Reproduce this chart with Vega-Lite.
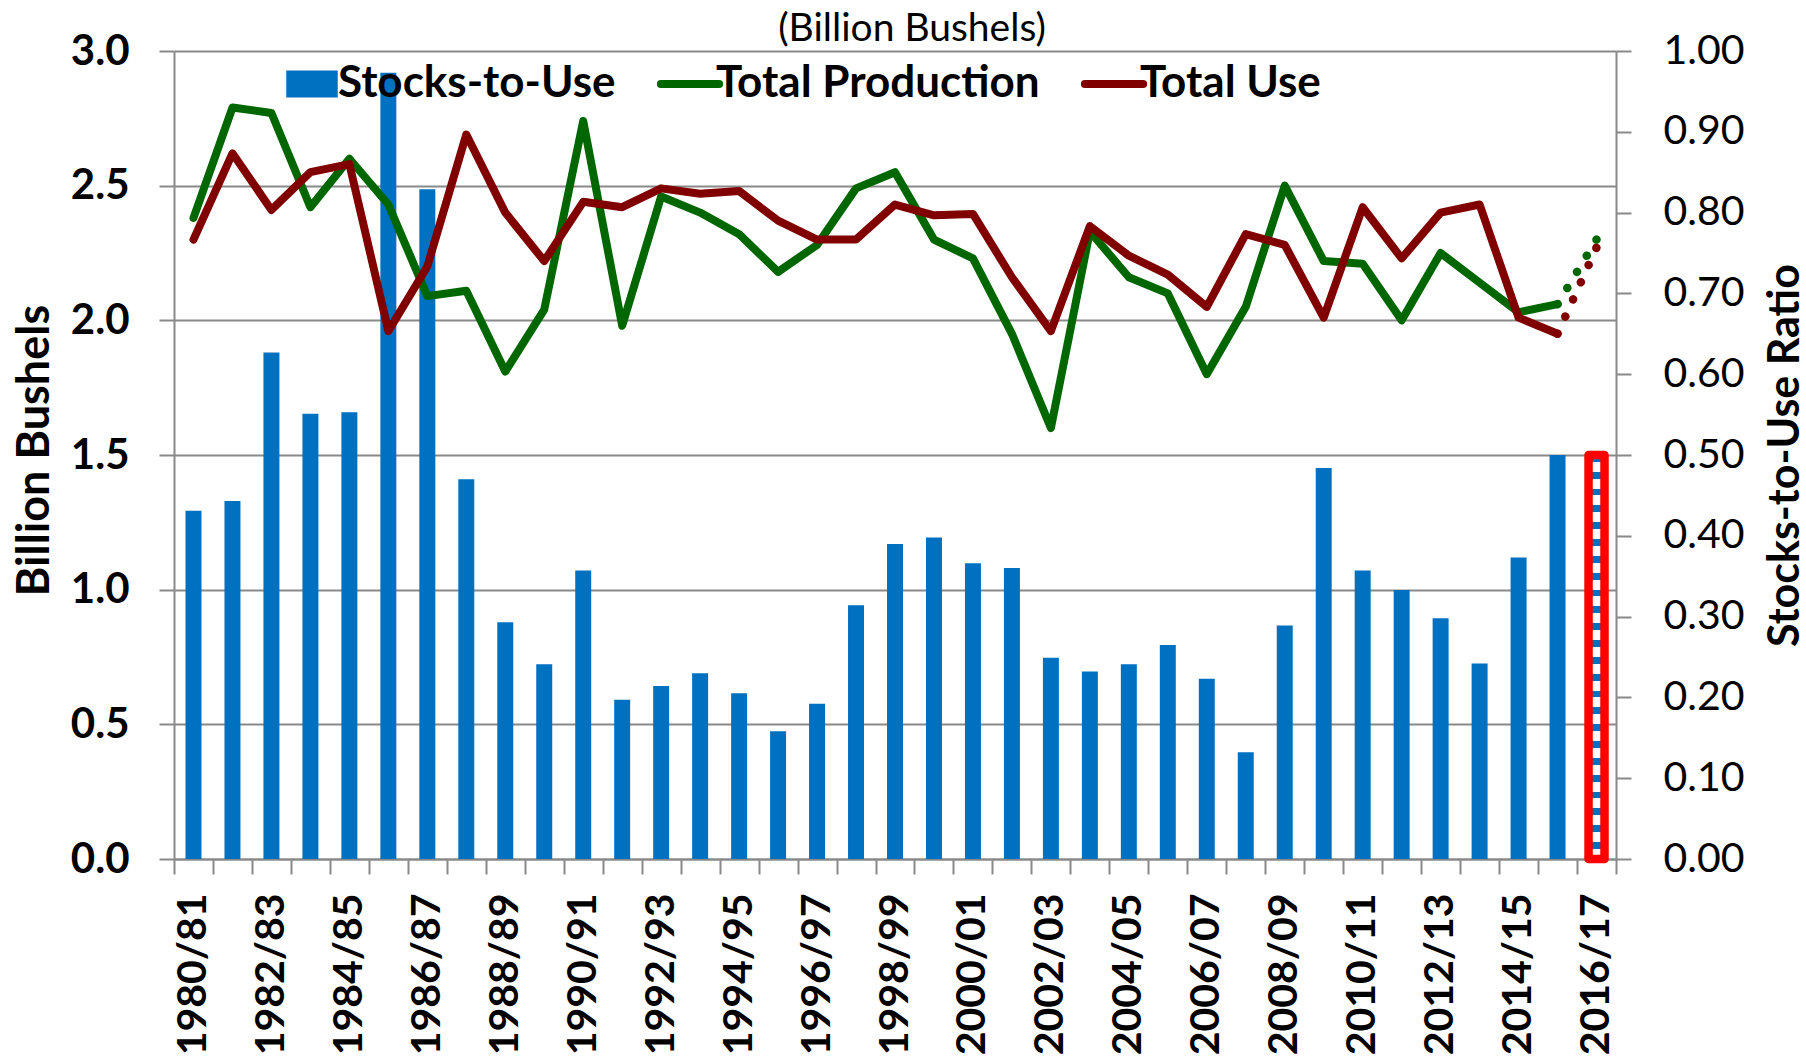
{
  "$schema": "https://vega.github.io/schema/vega-lite/v6.json",
  "autosize": {"type": "none"},
  "padding": {"left": 174, "top": 51, "right": 190, "bottom": 200},
  "width": 1442,
  "height": 808,
  "title": {"text": "(Billion Bushels)", "font": "Lato", "fontSize": 39, "fontWeight": "normal", "color": "black", "anchor": "middle", "frame": "group", "dx": 17, "offset": -50, "baseline": "alphabetic"},
  "data": {"values": [
    {"year": "1980/81", "Stocks-to-Use": 0.431, "Total Production": 2.38, "Total Use": 2.30},
    {"year": "1981/82", "Stocks-to-Use": 0.443, "Total Production": 2.79, "Total Use": 2.62},
    {"year": "1982/83", "Stocks-to-Use": 0.627, "Total Production": 2.77, "Total Use": 2.41},
    {"year": "1983/84", "Stocks-to-Use": 0.551, "Total Production": 2.42, "Total Use": 2.55},
    {"year": "1984/85", "Stocks-to-Use": 0.553, "Total Production": 2.60, "Total Use": 2.58},
    {"year": "1985/86", "Stocks-to-Use": 0.973, "Total Production": 2.43, "Total Use": 1.96},
    {"year": "1986/87", "Stocks-to-Use": 0.829, "Total Production": 2.09, "Total Use": 2.20},
    {"year": "1987/88", "Stocks-to-Use": 0.470, "Total Production": 2.11, "Total Use": 2.69},
    {"year": "1988/89", "Stocks-to-Use": 0.293, "Total Production": 1.81, "Total Use": 2.40},
    {"year": "1989/90", "Stocks-to-Use": 0.241, "Total Production": 2.04, "Total Use": 2.22},
    {"year": "1990/91", "Stocks-to-Use": 0.357, "Total Production": 2.74, "Total Use": 2.44},
    {"year": "1991/92", "Stocks-to-Use": 0.197, "Total Production": 1.98, "Total Use": 2.42},
    {"year": "1992/93", "Stocks-to-Use": 0.214, "Total Production": 2.46, "Total Use": 2.49},
    {"year": "1993/94", "Stocks-to-Use": 0.230, "Total Production": 2.40, "Total Use": 2.47},
    {"year": "1994/95", "Stocks-to-Use": 0.205, "Total Production": 2.32, "Total Use": 2.48},
    {"year": "1995/96", "Stocks-to-Use": 0.158, "Total Production": 2.18, "Total Use": 2.37},
    {"year": "1996/97", "Stocks-to-Use": 0.192, "Total Production": 2.28, "Total Use": 2.30},
    {"year": "1997/98", "Stocks-to-Use": 0.314, "Total Production": 2.49, "Total Use": 2.30},
    {"year": "1998/99", "Stocks-to-Use": 0.390, "Total Production": 2.55, "Total Use": 2.43},
    {"year": "1999/00", "Stocks-to-Use": 0.398, "Total Production": 2.30, "Total Use": 2.39},
    {"year": "2000/01", "Stocks-to-Use": 0.366, "Total Production": 2.23, "Total Use": 2.395},
    {"year": "2001/02", "Stocks-to-Use": 0.360, "Total Production": 1.95, "Total Use": 2.16},
    {"year": "2002/03", "Stocks-to-Use": 0.249, "Total Production": 1.60, "Total Use": 1.96},
    {"year": "2003/04", "Stocks-to-Use": 0.232, "Total Production": 2.33, "Total Use": 2.35},
    {"year": "2004/05", "Stocks-to-Use": 0.241, "Total Production": 2.16, "Total Use": 2.24},
    {"year": "2005/06", "Stocks-to-Use": 0.265, "Total Production": 2.10, "Total Use": 2.17},
    {"year": "2006/07", "Stocks-to-Use": 0.223, "Total Production": 1.80, "Total Use": 2.05},
    {"year": "2007/08", "Stocks-to-Use": 0.132, "Total Production": 2.05, "Total Use": 2.32},
    {"year": "2008/09", "Stocks-to-Use": 0.289, "Total Production": 2.50, "Total Use": 2.28},
    {"year": "2009/10", "Stocks-to-Use": 0.484, "Total Production": 2.22, "Total Use": 2.01},
    {"year": "2010/11", "Stocks-to-Use": 0.357, "Total Production": 2.21, "Total Use": 2.42},
    {"year": "2011/12", "Stocks-to-Use": 0.333, "Total Production": 2.00, "Total Use": 2.23},
    {"year": "2012/13", "Stocks-to-Use": 0.298, "Total Production": 2.25, "Total Use": 2.40},
    {"year": "2013/14", "Stocks-to-Use": 0.242, "Total Production": 2.14, "Total Use": 2.43},
    {"year": "2014/15", "Stocks-to-Use": 0.373, "Total Production": 2.03, "Total Use": 2.01},
    {"year": "2015/16", "Stocks-to-Use": 0.500, "Total Production": 2.06, "Total Use": 1.95},
    {"year": "2016/17", "Stocks-to-Use": 0.500, "Total Production": 2.30, "Total Use": 2.27}
  ]},
  "encoding": {
    "x": {
      "field": "year", "type": "nominal",
      "scale": {"paddingInner": 0, "paddingOuter": 0},
      "axis": {
        "title": null, "labelAngle": -90, "labelAlign": "right", "labelBaseline": "middle",
        "labelFont": "Lato", "labelFontSize": 41, "labelFontWeight": "bold", "labelColor": "black",
        "tickBand": "extent", "tickSize": 15, "labelPadding": 19, "labelOverlap": false,
        "labelExpr": "isString(datum.value) && toNumber(slice(datum.value, 0, 4)) % 2 == 0 ? datum.value : ''"
      }
    }
  },
  "layer": [
    {
      "encoding": {
        "y": {
          "field": "Stocks-to-Use", "type": "quantitative",
          "scale": {"domain": [0, 1]},
          "axis": {
            "orient": "right", "values": [0, 0.1, 0.2, 0.3, 0.4, 0.5, 0.6, 0.7, 0.8, 0.9, 1.0],
            "format": ".2f", "grid": false, "tickSize": 15, "labelPadding": 32,
            "labelFont": "Lato", "labelFontSize": 41, "labelFontWeight": "normal", "labelColor": "black",
            "title": "Stocks-to-Use Ratio", "titleFont": "Lato", "titleFontSize": 43, "titleFontWeight": "bold",
            "titleAngle": -90, "titleBaseline": "alphabetic", "titleAlign": "center", "titleX": 182, "titleY": 404
          }
        }
      },
      "layer": [
        {
          "transform": [{"filter": "datum.year != '2016/17'"}],
          "mark": {"type": "bar", "width": {"band": 0.41}},
          "encoding": {
            "color": {
              "datum": "Stocks-to-Use",
              "scale": {"domain": ["Stocks-to-Use", "Total Production", "Total Use"], "range": ["#0070C0", "#006600", "#800000"]},
              "legend": {
                "title": null, "orient": "none", "legendX": 116, "legendY": 11, "direction": "horizontal",
                "gridAlign": "none", "columnPadding": 28, "labelOffset": 4, "padding": 0, "labelLimit": 0,
                "labelFont": "Lato", "labelFontSize": 44, "labelFontWeight": "bold", "labelColor": "black",
                "symbolSize": 3400, "symbolStrokeWidth": 8,
                "encode": {"symbols": {"update": {
                  "shape": {"signal": "datum.value === 'Stocks-to-Use' ? 'M-1,-0.52H1V0.52H-1Z' : 'stroke'"},
                  "size": {"signal": "datum.value === 'Stocks-to-Use' ? 2650 : 3400"},
                  "fill": {"signal": "datum.value === 'Stocks-to-Use' ? '#0070C0' : 'transparent'"},
                  "stroke": {"signal": "datum.value === 'Stocks-to-Use' ? 'transparent' : (datum.value === 'Total Use' ? '#800000' : '#006600')"},
                  "strokeWidth": {"signal": "datum.value === 'Stocks-to-Use' ? 0 : 8"},
                  "strokeCap": {"value": "round"},
                  "opacity": {"value": 1}
                }}}
              }
            }
          }
        },
        {
          "transform": [{"filter": "datum.year == '2016/17'"}],
          "mark": {
            "type": "bar", "width": {"band": 0.41}, "stroke": "#FF0000", "strokeWidth": 8.5, "strokeJoin": "round",
            "fill": {"gradient": "linear", "x1": 0, "y1": 0, "x2": 0, "y2": 1, "stops": [
              {"offset": 0, "color": "#0070C0"}, {"offset": 0.0167, "color": "#0070C0"}, {"offset": 0.0167, "color": "#FFFFFF"}, {"offset": 0.0417, "color": "#FFFFFF"},
              {"offset": 0.0417, "color": "#0070C0"}, {"offset": 0.0583, "color": "#0070C0"}, {"offset": 0.0583, "color": "#FFFFFF"}, {"offset": 0.0833, "color": "#FFFFFF"},
              {"offset": 0.0833, "color": "#0070C0"}, {"offset": 0.1, "color": "#0070C0"}, {"offset": 0.1, "color": "#FFFFFF"}, {"offset": 0.125, "color": "#FFFFFF"},
              {"offset": 0.125, "color": "#0070C0"}, {"offset": 0.1417, "color": "#0070C0"}, {"offset": 0.1417, "color": "#FFFFFF"}, {"offset": 0.1667, "color": "#FFFFFF"},
              {"offset": 0.1667, "color": "#0070C0"}, {"offset": 0.1833, "color": "#0070C0"}, {"offset": 0.1833, "color": "#FFFFFF"}, {"offset": 0.2083, "color": "#FFFFFF"},
              {"offset": 0.2083, "color": "#0070C0"}, {"offset": 0.225, "color": "#0070C0"}, {"offset": 0.225, "color": "#FFFFFF"}, {"offset": 0.25, "color": "#FFFFFF"},
              {"offset": 0.25, "color": "#0070C0"}, {"offset": 0.2667, "color": "#0070C0"}, {"offset": 0.2667, "color": "#FFFFFF"}, {"offset": 0.2917, "color": "#FFFFFF"},
              {"offset": 0.2917, "color": "#0070C0"}, {"offset": 0.3083, "color": "#0070C0"}, {"offset": 0.3083, "color": "#FFFFFF"}, {"offset": 0.3333, "color": "#FFFFFF"},
              {"offset": 0.3333, "color": "#0070C0"}, {"offset": 0.35, "color": "#0070C0"}, {"offset": 0.35, "color": "#FFFFFF"}, {"offset": 0.375, "color": "#FFFFFF"},
              {"offset": 0.375, "color": "#0070C0"}, {"offset": 0.3917, "color": "#0070C0"}, {"offset": 0.3917, "color": "#FFFFFF"}, {"offset": 0.4167, "color": "#FFFFFF"},
              {"offset": 0.4167, "color": "#0070C0"}, {"offset": 0.4333, "color": "#0070C0"}, {"offset": 0.4333, "color": "#FFFFFF"}, {"offset": 0.4583, "color": "#FFFFFF"},
              {"offset": 0.4583, "color": "#0070C0"}, {"offset": 0.475, "color": "#0070C0"}, {"offset": 0.475, "color": "#FFFFFF"}, {"offset": 0.5, "color": "#FFFFFF"},
              {"offset": 0.5, "color": "#0070C0"}, {"offset": 0.5167, "color": "#0070C0"}, {"offset": 0.5167, "color": "#FFFFFF"}, {"offset": 0.5417, "color": "#FFFFFF"},
              {"offset": 0.5417, "color": "#0070C0"}, {"offset": 0.5583, "color": "#0070C0"}, {"offset": 0.5583, "color": "#FFFFFF"}, {"offset": 0.5833, "color": "#FFFFFF"},
              {"offset": 0.5833, "color": "#0070C0"}, {"offset": 0.6, "color": "#0070C0"}, {"offset": 0.6, "color": "#FFFFFF"}, {"offset": 0.625, "color": "#FFFFFF"},
              {"offset": 0.625, "color": "#0070C0"}, {"offset": 0.6417, "color": "#0070C0"}, {"offset": 0.6417, "color": "#FFFFFF"}, {"offset": 0.6667, "color": "#FFFFFF"},
              {"offset": 0.6667, "color": "#0070C0"}, {"offset": 0.6833, "color": "#0070C0"}, {"offset": 0.6833, "color": "#FFFFFF"}, {"offset": 0.7083, "color": "#FFFFFF"},
              {"offset": 0.7083, "color": "#0070C0"}, {"offset": 0.725, "color": "#0070C0"}, {"offset": 0.725, "color": "#FFFFFF"}, {"offset": 0.75, "color": "#FFFFFF"},
              {"offset": 0.75, "color": "#0070C0"}, {"offset": 0.7667, "color": "#0070C0"}, {"offset": 0.7667, "color": "#FFFFFF"}, {"offset": 0.7917, "color": "#FFFFFF"},
              {"offset": 0.7917, "color": "#0070C0"}, {"offset": 0.8083, "color": "#0070C0"}, {"offset": 0.8083, "color": "#FFFFFF"}, {"offset": 0.8333, "color": "#FFFFFF"},
              {"offset": 0.8333, "color": "#0070C0"}, {"offset": 0.85, "color": "#0070C0"}, {"offset": 0.85, "color": "#FFFFFF"}, {"offset": 0.875, "color": "#FFFFFF"},
              {"offset": 0.875, "color": "#0070C0"}, {"offset": 0.8917, "color": "#0070C0"}, {"offset": 0.8917, "color": "#FFFFFF"}, {"offset": 0.9167, "color": "#FFFFFF"},
              {"offset": 0.9167, "color": "#0070C0"}, {"offset": 0.9333, "color": "#0070C0"}, {"offset": 0.9333, "color": "#FFFFFF"}, {"offset": 0.9583, "color": "#FFFFFF"},
              {"offset": 0.9583, "color": "#0070C0"}, {"offset": 0.975, "color": "#0070C0"}, {"offset": 0.975, "color": "#FFFFFF"}, {"offset": 1, "color": "#FFFFFF"}
            ]}
          }
        }
      ]
    },
    {
      "transform": [{"fold": ["Total Production", "Total Use"], "as": ["series", "value"]}],
      "encoding": {
        "y": {
          "field": "value", "type": "quantitative",
          "scale": {"domain": [0, 3]},
          "axis": {
            "orient": "left", "values": [0, 0.5, 1, 1.5, 2, 2.5, 3], "format": ".1f",
            "grid": true, "tickSize": 15, "labelPadding": 30,
            "labelFont": "Lato", "labelFontSize": 42, "labelFontWeight": "bold", "labelColor": "black",
            "title": "Billion Bushels", "titleFont": "Lato", "titleFontSize": 45, "titleFontWeight": "bold",
            "titleAngle": -90, "titleBaseline": "alphabetic", "titleAlign": "center", "titleX": -126, "titleY": 399
          }
        },
        "color": {
          "field": "series", "type": "nominal",
          "scale": {"domain": ["Stocks-to-Use", "Total Production", "Total Use"], "range": ["#0070C0", "#006600", "#800000"]},
          "legend": {
            "title": null, "orient": "none", "legendX": 116, "legendY": 11, "direction": "horizontal",
            "gridAlign": "none", "columnPadding": 28, "labelOffset": 4, "padding": 0, "labelLimit": 0,
            "labelFont": "Lato", "labelFontSize": 44, "labelFontWeight": "bold", "labelColor": "black",
            "symbolSize": 3400, "symbolStrokeWidth": 8,
            "encode": {"symbols": {"update": {
              "shape": {"signal": "datum.value === 'Stocks-to-Use' ? 'M-1,-0.52H1V0.52H-1Z' : 'stroke'"},
              "size": {"signal": "datum.value === 'Stocks-to-Use' ? 2650 : 3400"},
              "fill": {"signal": "datum.value === 'Stocks-to-Use' ? '#0070C0' : 'transparent'"},
              "stroke": {"signal": "datum.value === 'Stocks-to-Use' ? 'transparent' : (datum.value === 'Total Use' ? '#800000' : '#006600')"},
              "strokeWidth": {"signal": "datum.value === 'Stocks-to-Use' ? 0 : 8"},
              "strokeCap": {"value": "round"},
              "opacity": {"value": 1}
            }}}
          }
        }
      },
      "layer": [
        {
          "transform": [{"filter": "datum.year != '2016/17'"}],
          "mark": {"type": "line", "strokeWidth": 8, "strokeCap": "round", "strokeJoin": "round"}
        },
        {
          "transform": [{"filter": "datum.year == '2015/16' || datum.year == '2016/17'"}],
          "mark": {"type": "line", "strokeWidth": 8.5, "strokeCap": "round", "strokeDash": [0.1, 18.75]}
        }
      ]
    }
  ],
  "resolve": {"scale": {"y": "independent"}},
  "config": {
    "view": {"stroke": null},
    "font": "Lato",
    "axis": {
      "labelColor": "black", "titleColor": "black",
      "domainColor": "#898989", "tickColor": "#898989", "gridColor": "#898989",
      "domainWidth": 2, "tickWidth": 2, "gridWidth": 2
    }
  }
}
